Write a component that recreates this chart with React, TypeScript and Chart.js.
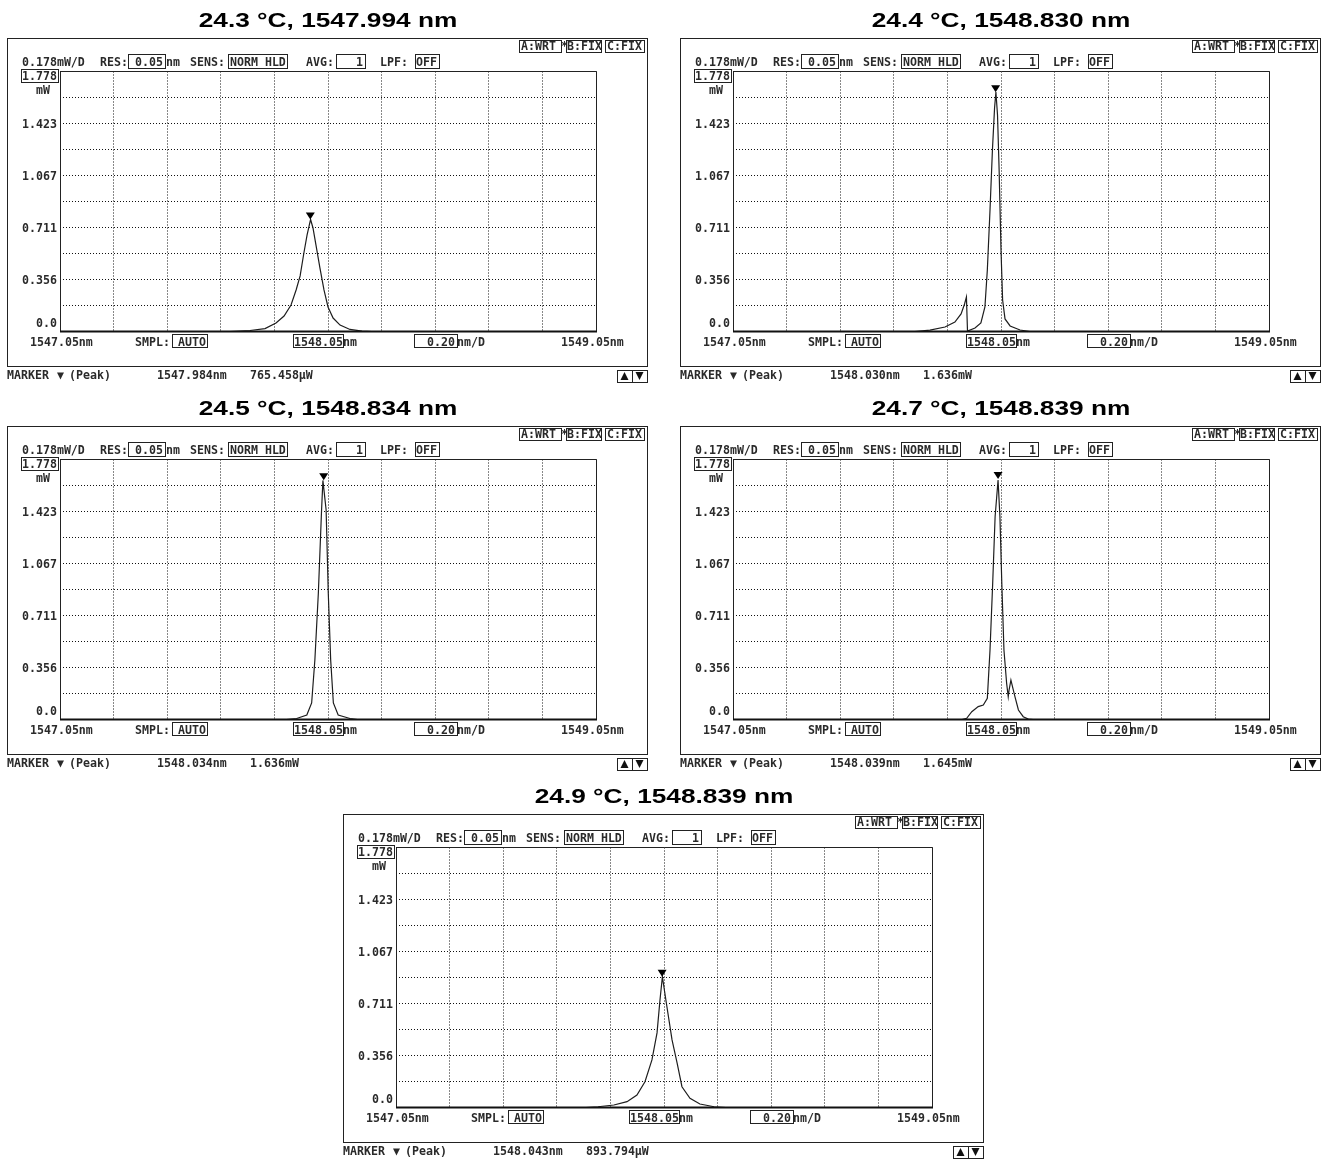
import React, { useEffect, useRef } from "react";
import { Chart, registerables } from "chart.js";

Chart.register(...registerables);

// ---------- data ----------
const panelTitles = [
  "24.3 °C, 1547.994 nm",
  "24.4 °C, 1548.830 nm",
  "24.5 °C, 1548.834 nm",
  "24.7 °C, 1548.839 nm",
  "24.9 °C, 1548.839 nm",
];

const wavelength243 = [1547.05, 1547.684, 1547.759, 1547.815, 1547.856, 1547.886, 1547.912, 1547.931, 1547.946, 1547.96, 1547.972, 1547.985, 1547.994, 1548.005, 1548.02, 1548.035, 1548.05, 1548.069, 1548.095, 1548.132, 1548.177, 1548.214, 1549.05];
const power243 = [0, 0, 0.007, 0.02, 0.058, 0.106, 0.181, 0.284, 0.38, 0.537, 0.66, 0.766, 0.708, 0.592, 0.434, 0.284, 0.168, 0.092, 0.044, 0.014, 0.003, 0, 0];

const wavelength244 = [1547.05, 1547.729, 1547.785, 1547.841, 1547.878, 1547.901, 1547.914, 1547.921, 1547.925, 1547.953, 1547.975, 1547.99, 1547.999, 1548.009, 1548.018, 1548.026, 1548.031, 1548.037, 1548.043, 1548.05, 1548.056, 1548.065, 1548.084, 1548.121, 1548.158, 1549.05];
const power244 = [0, 0, 0.01, 0.031, 0.065, 0.12, 0.188, 0.236, 0.003, 0.024, 0.058, 0.168, 0.421, 0.831, 1.241, 1.529, 1.638, 1.481, 1.105, 0.557, 0.215, 0.086, 0.038, 0.01, 0, 0];

const wavelength245 = [1547.05, 1547.895, 1547.933, 1547.971, 1547.989, 1548.001, 1548.014, 1548.026, 1548.031, 1548.043, 1548.051, 1548.06, 1548.07, 1548.088, 1548.132, 1548.16, 1549.05];
const power245 = [0, 0, 0.007, 0.031, 0.113, 0.407, 0.865, 1.433, 1.635, 1.433, 0.865, 0.407, 0.113, 0.031, 0.007, 0, 0];

const wavelength247 = [1547.05, 1547.905, 1547.922, 1547.941, 1547.965, 1547.984, 1547.999, 1548.009, 1548.019, 1548.028, 1548.039, 1548.046, 1548.053, 1548.061, 1548.071, 1548.077, 1548.08, 1548.087, 1548.102, 1548.115, 1548.133, 1548.152, 1548.17, 1549.05];
const power247 = [0, 0, 0.008, 0.053, 0.088, 0.099, 0.145, 0.475, 0.932, 1.387, 1.638, 1.387, 0.932, 0.475, 0.248, 0.156, 0.2, 0.27, 0.156, 0.065, 0.019, 0.003, 0, 0];

const wavelength249 = [1547.05, 1547.759, 1547.804, 1547.863, 1547.912, 1547.949, 1547.979, 1548.005, 1548.024, 1548.035, 1548.044, 1548.057, 1548.08, 1548.099, 1548.117, 1548.147, 1548.184, 1548.237, 1548.281, 1549.05];
const power249 = [0, 0, 0.005, 0.017, 0.04, 0.085, 0.176, 0.325, 0.51, 0.735, 0.894, 0.735, 0.462, 0.304, 0.142, 0.063, 0.024, 0.005, 0, 0];

const wavelengths = [wavelength243, wavelength244, wavelength245, wavelength247, wavelength249];
const powers = [power243, power244, power245, power247, power249];

const markerWavelengths = [1547.984, 1548.03, 1548.034, 1548.039, 1548.043];
const markerPowers = [0.765458, 1.636, 1.636, 1.645, 0.893794];
const markerWavelengthLabels = ["1547.984nm", "1548.030nm", "1548.034nm", "1548.039nm", "1548.043nm"];
const markerPowerLabels = ["765.458µW", "1.636mW", "1.636mW", "1.645mW", "893.794µW"];

const xMin = 1547.05;
const xMax = 1549.05;
const yMin = 0;
const yMax = 1.778;
const xGridValues = [1547.05, 1547.25, 1547.45, 1547.65, 1547.85, 1548.05, 1548.25, 1548.45, 1548.65, 1548.85, 1549.05];
const yGridValues = [0, 0.1778, 0.3556, 0.5334, 0.7112, 0.889, 1.0668, 1.2446, 1.4224, 1.6002, 1.778];
const yTickValues = [1.778, 1.4224, 1.0668, 0.7112, 0.3556, 0];
const yTickLabels = ["1.778", "1.423", "1.067", "0.711", "0.356", "0.0"];
const xTickLabels = ["1547.05nm", "1548.05", "1549.05nm"];

// panel placement on the page
const panelOrigins = [
  [0, 0],
  [673, 0],
  [0, 388],
  [673, 388],
  [336, 776],
];

const MONO = "bold 11.6px 'DejaVu Sans Mono', monospace";
const INK = "#222";

const osaPlugin = {
  id: "osa",
  afterDraw(chart: any, _args: any, opts: any) {
    const i: number = opts.idx;
    const ctx: CanvasRenderingContext2D = chart.ctx;
    const a = chart.chartArea;
    const xs = chart.scales.x;
    const ys = chart.scales.y;
    ctx.save();

    // title
    ctx.fillStyle = "#000";
    ctx.font = "bold 20.5px 'Liberation Sans', Arial, sans-serif";
    ctx.textAlign = "center";
    ctx.textBaseline = "alphabetic";
    ctx.save();
    ctx.translate(xs.getPixelForValue(1548.05), 27);
    ctx.scale(1.28, 1);
    ctx.fillText(panelTitles[i], 0, 0);
    ctx.restore();

    // screen frame
    ctx.strokeStyle = INK;
    ctx.lineWidth = 1;
    ctx.strokeRect(7.5, 38.5, 640, 328);

    // plot frame
    ctx.beginPath();
    ctx.moveTo(a.left + 0.5, a.bottom);
    ctx.lineTo(a.left + 0.5, a.top);
    ctx.lineTo(a.right + 0.5, a.top);
    ctx.lineTo(a.right + 0.5, a.bottom);
    ctx.stroke();
    ctx.lineWidth = 2;
    ctx.strokeStyle = "#111";
    ctx.beginPath();
    ctx.moveTo(a.left, ys.getPixelForValue(0));
    ctx.lineTo(a.right + 1, ys.getPixelForValue(0));
    ctx.stroke();
    ctx.lineWidth = 1;
    ctx.strokeStyle = INK;

    ctx.fillStyle = "#2a2a2a";
    ctx.font = MONO;
    const t = (s: string, x: number, y: number, align: CanvasTextAlign = "left") => {
      ctx.textAlign = align;
      ctx.fillText(s, x, y);
    };
    const b = (x: number, y: number, w: number, h: number) => ctx.strokeRect(x + 0.5, y + 0.5, w, h);

    // header
    const hy = 66;
    t("0.178mW/D", 22, hy);
    t("RES:", 100, hy);
    b(128, 54, 37, 14);
    t("0.05", 163, hy, "right");
    t("nm", 166, hy);
    t("SENS:", 190, hy);
    b(228, 54, 59, 14);
    t("NORM HLD", 230, hy);
    t("AVG:", 306, hy);
    b(336, 54, 29, 14);
    t("1", 363, hy, "right");
    t("LPF:", 380, hy);
    b(415, 54, 24, 14);
    t("OFF", 416, hy);

    // trace status
    b(519, 40, 42, 12);
    t("A:WRT", 521, 50);
    t("*", 561, 50);
    b(566, 40, 35, 12);
    t("B:FIX", 567, 50);
    b(605, 40, 39, 12);
    t("C:FIX", 607, 50);

    // y labels
    yTickValues.forEach((v, k) => {
      const py = ys.getPixelForValue(v);
      if (k === 0) {
        b(21, Math.round(py) - 3, 37, 13);
        t(yTickLabels[k], 57, py + 8.5, "right");
        t("mW", 43, py + 22.5, "center");
      } else if (k === yTickValues.length - 1) {
        t(yTickLabels[k], 57, py - 4.5, "right");
      } else {
        t(yTickLabels[k], 57, py + 4.5, "right");
      }
    });

    // x labels
    const by = a.bottom + 14.5;
    t(xTickLabels[0], 30, by);
    t("SMPL:", 135, by);
    b(172, 334, 35, 13);
    t("AUTO", 178, by);
    b(293, 334, 50, 13);
    t(xTickLabels[1], 294, by);
    t("nm", 343, by);
    b(414, 334, 43, 13);
    t("0.20", 455, by, "right");
    t("nm/D", 457, by);
    t(xTickLabels[2], 561, by);

    // marker bar
    const my0 = 379;
    t("MARKER", 7, my0);
    t("▼", 57, my0);
    t("(Peak)", 69, my0);
    t(markerWavelengthLabels[i], 157, my0);
    t(markerPowerLabels[i], 250, my0);
    b(617, 370, 30, 12);
    ctx.beginPath();
    ctx.moveTo(632.5, 370);
    ctx.lineTo(632.5, 382);
    ctx.stroke();
    ctx.fillStyle = "#111";
    ctx.beginPath();
    ctx.moveTo(620.5, 380);
    ctx.lineTo(628.5, 380);
    ctx.lineTo(624.5, 372);
    ctx.closePath();
    ctx.fill();
    ctx.beginPath();
    ctx.moveTo(635.5, 372);
    ctx.lineTo(643.5, 372);
    ctx.lineTo(639.5, 380);
    ctx.closePath();
    ctx.fill();

    // peak marker triangle
    const mx = xs.getPixelForValue(markerWavelengths[i]);
    const my = ys.getPixelForValue(markerPowers[i]);
    ctx.fillStyle = "#000";
    ctx.beginPath();
    ctx.moveTo(mx - 4.5, my - 7);
    ctx.lineTo(mx + 4.5, my - 7);
    ctx.lineTo(mx, my);
    ctx.closePath();
    ctx.fill();

    ctx.restore();
  },
};

function Panel({ idx }: { idx: number }) {
  const ref = useRef<HTMLCanvasElement | null>(null);
  useEffect(() => {
    if (!ref.current) return;
    const pts = wavelengths[idx].map((w, k) => ({ x: w, y: powers[idx][k] }));
    const chart = new Chart(ref.current, {
      type: "line",
      data: {
        datasets: [
          {
            data: pts,
            borderColor: "#1e1e1e",
            borderWidth: 1.2,
            pointRadius: 0,
            tension: 0,
            fill: false,
          },
        ],
      },
      options: {
        responsive: false,
        animation: false,
        events: [],
        layout: { padding: { left: 60, top: 71.5, right: 54, bottom: 56.5 } },
        plugins: {
          legend: { display: false },
          tooltip: { enabled: false },
          title: { display: false },
          osa: { idx },
        } as any,
        scales: {
          x: {
            type: "linear",
            min: xMin,
            max: xMax,
            afterBuildTicks: (s: any) => {
              s.ticks = xGridValues.map((v) => ({ value: v }));
            },
            ticks: { display: false },
            grid: { color: "#111", lineWidth: 1, drawTicks: false },
            border: { display: false, dash: [1, 2] },
          },
          y: {
            type: "linear",
            min: yMin,
            max: yMax,
            afterBuildTicks: (s: any) => {
              s.ticks = yGridValues.map((v) => ({ value: v }));
            },
            ticks: { display: false },
            grid: { color: "#111", lineWidth: 1, drawTicks: false },
            border: { display: false, dash: [1, 2] },
          },
        },
      } as any,
      plugins: [osaPlugin as any],
    });
    return () => chart.destroy();
  }, [idx]);
  const [ox, oy] = panelOrigins[idx];
  return (
    <canvas
      ref={ref}
      width={650}
      height={388}
      style={{ position: "absolute", left: ox, top: oy, width: 650, height: 388, display: "block" }}
    />
  );
}

export default function App() {
  return (
    <div style={{ position: "absolute", left: 0, top: 0, width: 1323, height: 1160, background: "#fff", overflow: "hidden" }}>
      {panelTitles.map((_, i) => (
        <Panel key={i} idx={i} />
      ))}
    </div>
  );
}
